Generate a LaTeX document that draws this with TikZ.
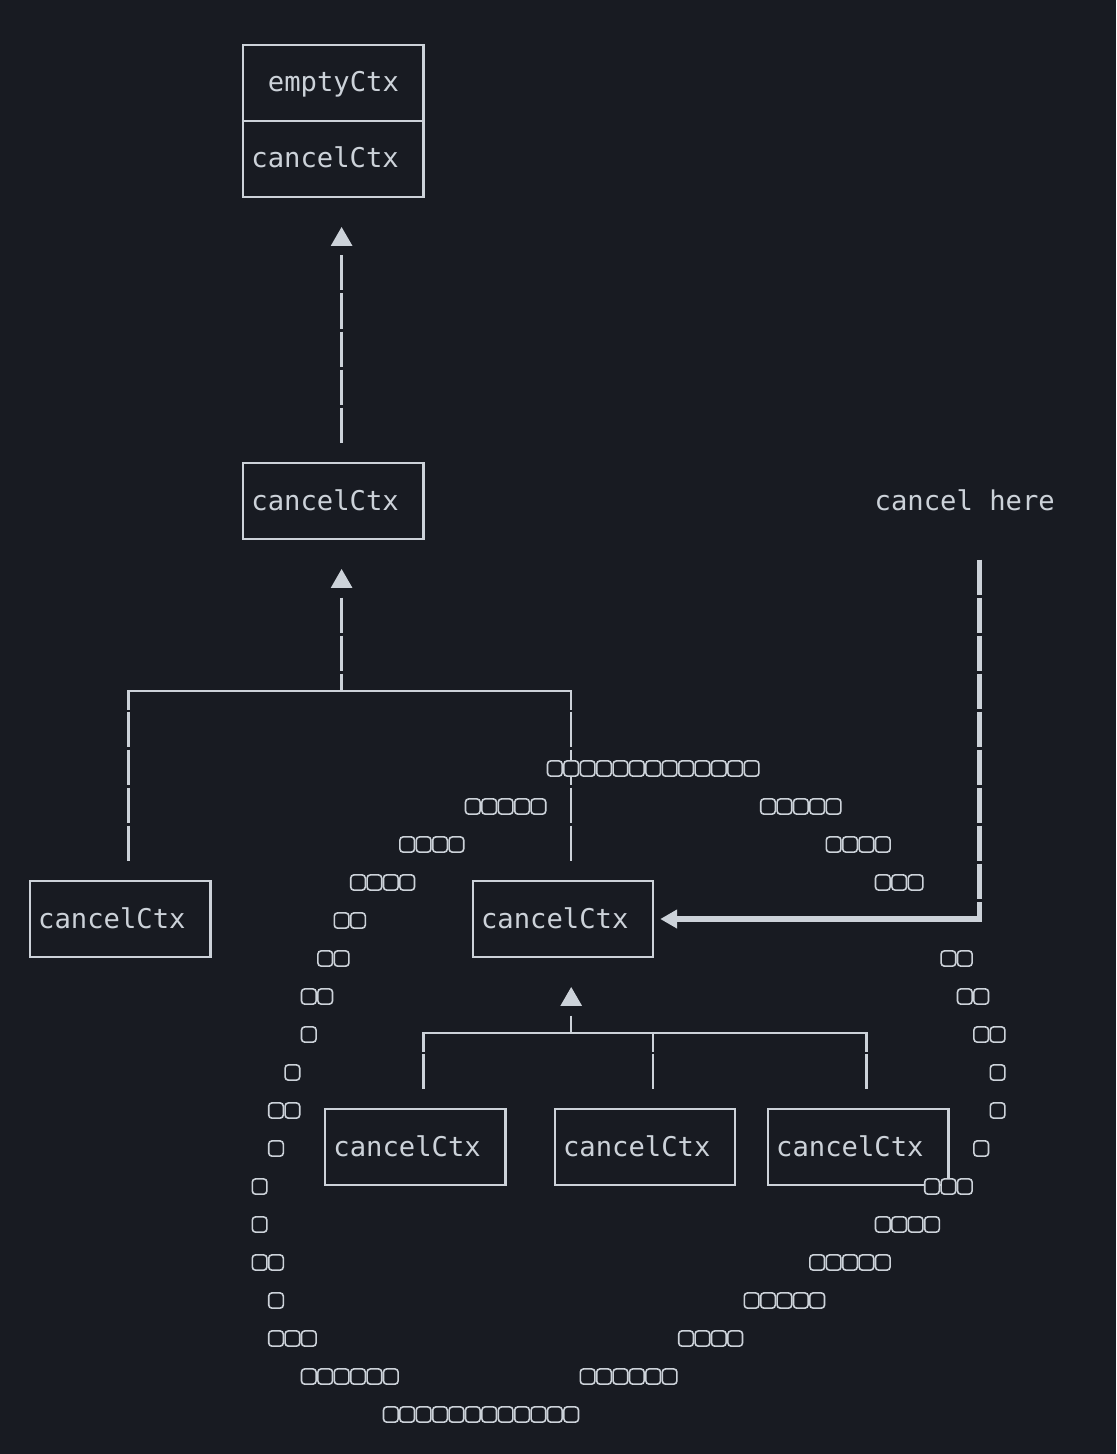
\documentclass[tikz,border=0pt]{standalone}
\usepackage{fontspec}
\setmonofont{DejaVu Sans Mono}
\usetikzlibrary{shapes.geometric,arrows.meta}
\definecolor{bg}{RGB}{24,27,34}
\definecolor{fg}{RGB}{204,210,217}
\begin{document}
\begin{tikzpicture}[x=8.2pt, y=-19pt, color=fg,
  ctx/.style={draw, line width=1.2pt, text width=82pt, inner xsep=4.1pt, inner ysep=0pt, minimum height=38pt, align=left, text height=10pt, text depth=1pt, font=\ttfamily\fontsize{13.6pt}{16pt}\selectfont},
  note/.style={inner sep=0pt, text height=10pt, text depth=1pt, font=\ttfamily\fontsize{13.6pt}{16pt}\selectfont},
  uptri/.style={regular polygon, regular polygon sides=3, fill, inner sep=0pt, minimum size=12.5pt},
  hbar/.style={line width=1.2pt},
  vbar/.style={line width=1.2pt, dash pattern=on 17.5pt off 1.5pt, dash phase=18.25pt},
  heavy/.style={line width=2.6pt},
  tofu/.style={draw, line width=0.8pt, rounded corners=1.6pt, minimum width=7.3pt, minimum height=7.6pt, inner sep=0pt, fill=bg}]
\fill[bg] (-1.8293,-0.1842) rectangle (66.2195,38.0789);
\node[ctx, align=center] (empty) at (18.5,2) {emptyCtx};
\node[ctx] (root) at (18.5,4) {cancelCtx};
\node[ctx] (ctx1) at (18.5,13) {cancelCtx};
\node[ctx] (ctx2) at (5.5,24) {cancelCtx};
\node[ctx] (ctx3) at (32.5,24) {cancelCtx};
\node[ctx] (ctx4) at (23.5,30) {cancelCtx};
\node[ctx] (ctx5) at (37.5,30) {cancelCtx};
\node[ctx] (ctx6) at (50.5,30) {cancelCtx};
\node[note] (here) at (57,13) {cancel here};
\node[uptri] (up1) at (19,6.12) {};
\coordinate (s1) at (19,6.5);
\coordinate (f1) at (19,11.5);
\draw[vbar] (s1) -- (f1);
\node[uptri] (up2) at (19,15.12) {};
\coordinate (s2) at (19,15.5);
\coordinate (j2) at (19,18);
\coordinate (l2) at (6,18);
\coordinate (r2) at (33,18);
\coordinate (l2a) at (6,18.5);
\coordinate (r2a) at (33,18.5);
\coordinate (f2l) at (6,22.5);
\coordinate (f2r) at (33,22.5);
\draw[vbar] (s2) -- (j2);
\draw[hbar] (l2a) -- (l2) -- (r2) -- (r2a);
\draw[vbar] (l2a) -- (f2l);
\draw[vbar] (r2a) -- (f2r);
\node[uptri] (up3) at (33,26.12) {};
\coordinate (s3) at (33,26.5);
\coordinate (j3) at (33,27);
\coordinate (l3) at (24,27);
\coordinate (m3) at (38,27);
\coordinate (r3) at (51,27);
\coordinate (l3a) at (24,27.5);
\coordinate (m3a) at (38,27.5);
\coordinate (r3a) at (51,27.5);
\coordinate (f3l) at (24,28.5);
\coordinate (f3m) at (38,28.5);
\coordinate (f3r) at (51,28.5);
\draw[vbar] (s3) -- (j3);
\draw[hbar] (l3a) -- (l3) -- (r3) -- (r3a);
\draw[hbar] (m3) -- (m3a);
\draw[vbar] (l3a) -- (f3l);
\draw[vbar] (m3a) -- (f3m);
\draw[vbar] (r3a) -- (f3r);
\coordinate (h1) at (57.9,14.5);
\coordinate (h2) at (57.9,23.5);
\draw[vbar, heavy] (h1) -- (h2);
\draw[heavy, -{Triangle[length=8.5pt,width=9pt]}, shorten >=2.9pt] ([yshift=-1pt]h2) |- (ctx3.east);
\foreach \a/\b/\r in {32/44/20, 27/31/21, 45/49/21, 23/26/22, 49/52/22, 20/23/23, 52/54/23,
  19/20/24, 18/19/25, 56/57/25, 17/18/26, 57/58/26, 17/17/27, 58/59/27, 16/16/28, 59/59/28,
  15/16/29, 59/59/29, 15/15/30, 58/58/30, 14/14/31, 55/57/31, 14/14/32, 52/55/32,
  14/15/33, 48/52/33, 15/15/34, 44/48/34, 15/17/35, 40/43/35, 17/22/36, 34/39/36, 22/33/37}
  \foreach \c in {\a,...,\b}
    \node[tofu] (t\r-\c) at (\c,\r+0.04) {};
\end{tikzpicture}
\end{document}
